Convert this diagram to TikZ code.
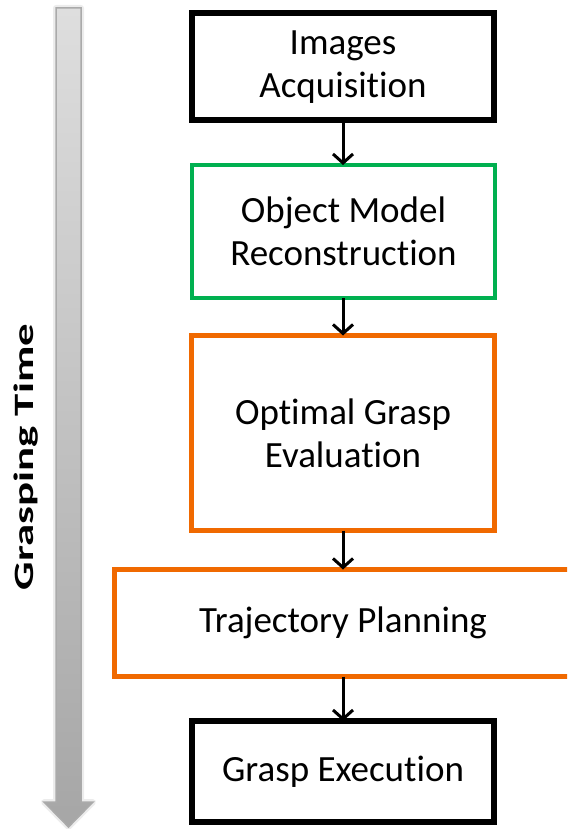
\documentclass[tikz,border=0pt]{standalone}
\usepackage{fontspec}
\setmainfont{Carlito}[RawFeature={-liga;-clig;-calt;-rlig;-dlig}]
\usetikzlibrary{arrows.meta}
\definecolor{boxgreen}{RGB}{0,176,80}
\definecolor{boxorange}{RGB}{240,105,0}
\definecolor{arrowtop}{RGB}{222,222,222}
\definecolor{arrowbot}{RGB}{166,166,166}
\definecolor{arrowedge}{RGB}{170,170,170}
\definecolor{arrowglow}{RGB}{236,236,236}
\tikzset{
  stagebox/.style={draw, fill=white, outer sep=0pt, inner sep=0pt, align=center,
    font=\fontsize{37}{43}\selectfont},
  blackbox/.style={stagebox, draw=black, line width=6pt},
  greenbox/.style={stagebox, draw=boxgreen, line width=4pt},
  orangebox/.style={stagebox, draw=boxorange, line width=5pt},
  flow/.style={draw=black, line width=3pt, -{Straight Barb[length=9pt,width=20pt]}},
}
\begin{document}
\begin{tikzpicture}[x=1pt,y=-1pt]
\useasboundingbox (0,0) rectangle (567,829);
\clip (0,0) rectangle (567,829);
% time arrow (soft glow, then body)
\draw[arrowglow, line width=6pt, line join=round]
  (56,8) -- (81,8) -- (81,802) -- (93,802) -- (68.5,827) -- (44,802) -- (56,802) -- cycle;
\shade[top color=arrowtop, bottom color=arrowbot, draw=arrowedge, line width=1.5pt]
  (56,8) -- (81,8) -- (81,802) -- (93,802) -- (68.5,827) -- (44,802) -- (56,802) -- cycle;
\node[rotate=90, xscale=1.6, anchor=base, inner sep=0pt,
  font=\bfseries\fontsize{28}{34}\selectfont] (time) at (33,457) {Grasping Time};
% boxes
\node[blackbox, minimum width=302pt, minimum height=107pt] (acq) at (343,67) {Images\\Acquisition};
\node[greenbox, minimum width=303pt, minimum height=133pt] (rec) at (343.5,231.5) {Object Model\\Reconstruction};
\node[orangebox, minimum width=303pt, minimum height=195pt] (eval) at (343,433) {Optimal Grasp\\Evaluation};
\node[orangebox, minimum width=457pt, minimum height=107pt] (traj) at (343,623) {Trajectory Planning};
\node[blackbox, minimum width=302pt, minimum height=101pt] (exec) at (343,771.5) {Grasp Execution};
% connectors
\draw[flow] (acq.south) -- (acq.south |- rec.north);
\draw[flow] (rec.south -| acq.south) -- (acq.south |- eval.north);
\draw[flow] (eval.south) -- (traj.north);
\draw[flow] (traj.south) -- (exec.north);
\end{tikzpicture}
\end{document}
